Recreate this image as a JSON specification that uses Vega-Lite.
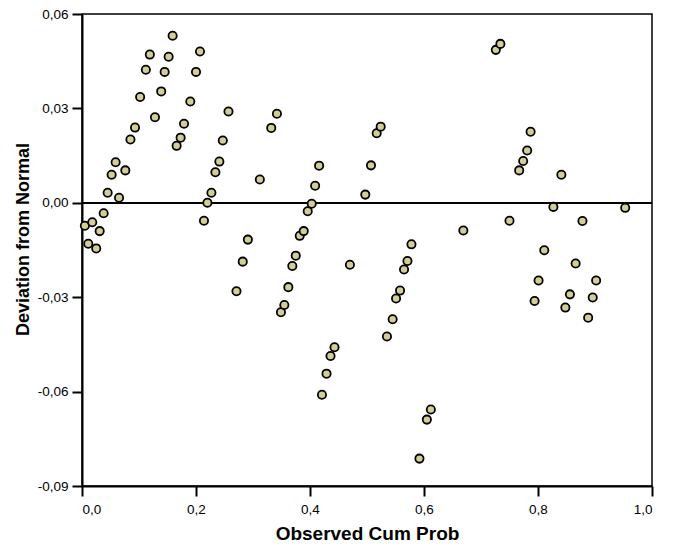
{
  "$schema": "https://vega.github.io/schema/vega-lite/v6.json",
  "width": 570,
  "height": 472,
  "autosize": {"type": "none"},
  "padding": {"left": 82, "top": 14, "right": 28, "bottom": 62},
  "background": "white",
  "config": {
    "font": "Liberation Sans",
    "view": {"stroke": "black", "strokeWidth": 1.5},
    "axis": {
      "grid": false,
      "domainColor": "black",
      "domainWidth": 2,
      "tickColor": "black",
      "tickWidth": 2,
      "tickSize": 10,
      "labelFont": "Liberation Sans",
      "labelFontSize": 13.5,
      "labelColor": "black",
      "titleFont": "Liberation Sans",
      "titleFontWeight": "bold",
      "titleColor": "black"
    }
  },
  "data": {
    "values": [
      {"p": 0.005, "d": -0.0073}, {"p": 0.018, "d": -0.0062}, {"p": 0.011, "d": -0.013}, {"p": 0.025, "d": -0.0145},
      {"p": 0.031, "d": -0.009}, {"p": 0.038, "d": -0.0033}, {"p": 0.045, "d": 0.0032}, {"p": 0.052, "d": 0.0089},
      {"p": 0.059, "d": 0.0129}, {"p": 0.065, "d": 0.0016}, {"p": 0.076, "d": 0.0103}, {"p": 0.085, "d": 0.0201},
      {"p": 0.093, "d": 0.0239}, {"p": 0.102, "d": 0.0336}, {"p": 0.112, "d": 0.0423}, {"p": 0.119, "d": 0.0471},
      {"p": 0.128, "d": 0.0272}, {"p": 0.139, "d": 0.0354}, {"p": 0.145, "d": 0.0416}, {"p": 0.152, "d": 0.0464},
      {"p": 0.159, "d": 0.0531}, {"p": 0.166, "d": 0.0181}, {"p": 0.173, "d": 0.0207}, {"p": 0.179, "d": 0.0251},
      {"p": 0.190, "d": 0.0322}, {"p": 0.200, "d": 0.0416}, {"p": 0.207, "d": 0.0481}, {"p": 0.214, "d": -0.0057},
      {"p": 0.220, "d": 0.0000}, {"p": 0.227, "d": 0.0032}, {"p": 0.234, "d": 0.0097}, {"p": 0.241, "d": 0.0131},
      {"p": 0.247, "d": 0.0198}, {"p": 0.257, "d": 0.029}, {"p": 0.271, "d": -0.0281}, {"p": 0.282, "d": -0.0187},
      {"p": 0.291, "d": -0.0117}, {"p": 0.312, "d": 0.0074}, {"p": 0.332, "d": 0.0238}, {"p": 0.342, "d": 0.0283},
      {"p": 0.349, "d": -0.0348}, {"p": 0.355, "d": -0.0325}, {"p": 0.362, "d": -0.0268}, {"p": 0.369, "d": -0.0201},
      {"p": 0.375, "d": -0.0168}, {"p": 0.382, "d": -0.0105}, {"p": 0.389, "d": -0.009}, {"p": 0.396, "d": -0.0027},
      {"p": 0.403, "d": -0.0003}, {"p": 0.409, "d": 0.0054}, {"p": 0.416, "d": 0.0118}, {"p": 0.421, "d": -0.061},
      {"p": 0.429, "d": -0.0543}, {"p": 0.436, "d": -0.0487}, {"p": 0.443, "d": -0.0459}, {"p": 0.470, "d": -0.0197},
      {"p": 0.497, "d": 0.0026}, {"p": 0.507, "d": 0.0119}, {"p": 0.517, "d": 0.0221}, {"p": 0.524, "d": 0.0242},
      {"p": 0.535, "d": -0.0425}, {"p": 0.545, "d": -0.037}, {"p": 0.551, "d": -0.0304}, {"p": 0.558, "d": -0.0279},
      {"p": 0.565, "d": -0.0212}, {"p": 0.571, "d": -0.0185}, {"p": 0.578, "d": -0.0132}, {"p": 0.592, "d": -0.0813},
      {"p": 0.605, "d": -0.0689}, {"p": 0.612, "d": -0.0657}, {"p": 0.669, "d": -0.0088}, {"p": 0.726, "d": 0.0486},
      {"p": 0.734, "d": 0.0505}, {"p": 0.750, "d": -0.0057}, {"p": 0.767, "d": 0.0103}, {"p": 0.774, "d": 0.0133},
      {"p": 0.781, "d": 0.0166}, {"p": 0.787, "d": 0.0226}, {"p": 0.794, "d": -0.0312}, {"p": 0.801, "d": -0.0247},
      {"p": 0.811, "d": -0.0151}, {"p": 0.827, "d": -0.0013}, {"p": 0.841, "d": 0.0089}, {"p": 0.848, "d": -0.0333},
      {"p": 0.856, "d": -0.0291}, {"p": 0.866, "d": -0.0193}, {"p": 0.878, "d": -0.0058}, {"p": 0.888, "d": -0.0365},
      {"p": 0.896, "d": -0.0301}, {"p": 0.902, "d": -0.0247}, {"p": 0.953, "d": -0.0016}
    ]
  },
  "layer": [
    {
      "mark": {"type": "rule", "color": "black", "strokeWidth": 1.5},
      "encoding": {"y": {"datum": 0, "type": "quantitative"}}
    },
    {
      "mark": {"type": "point", "filled": true, "fill": "#d3ce97", "stroke": "black", "strokeWidth": 1.8, "opacity": 1, "size": 68},
      "encoding": {
        "x": {
          "field": "p", "type": "quantitative",
          "scale": {"domain": [0, 1], "nice": false, "zero": false},
          "axis": {
            "title": "Observed Cum Prob",
            "values": [0, 0.2, 0.4, 0.6, 0.8, 1.0],
            "labelExpr": "replace(format(datum.value, '.1f'), '.', ',')",
            "labelPadding": 6,
            "titleFontSize": 19,
            "titleBaseline": "alphabetic",
            "titleY": 53
          }
        },
        "y": {
          "field": "d", "type": "quantitative",
          "scale": {"domain": [-0.09, 0.06], "nice": false, "zero": false},
          "axis": {
            "title": "Deviation from Normal",
            "values": [-0.09, -0.06, -0.03, 0, 0.03, 0.06],
            "labelExpr": "(datum.value < -0.0001 ? '-' : '') + replace(format(abs(datum.value), '.2f'), '.', ',')",
            "labelPadding": 4,
            "titleFontSize": 18,
            "titleAngle": -90,
            "titleAlign": "center",
            "titleBaseline": "alphabetic",
            "titleX": -54,
            "titleY": 225
          }
        }
      }
    }
  ]
}
